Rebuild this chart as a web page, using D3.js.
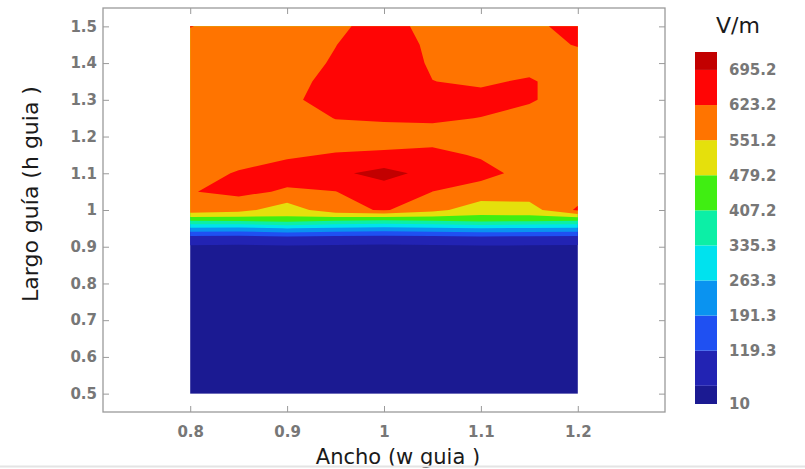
<!DOCTYPE html>
<html>
<head>
<meta charset="utf-8">
<script src="https://cdn.jsdelivr.net/npm/d3@7"></script>
<style>
    body { margin: 0; background: #fff; }
    svg { display: block; }
</style>
</head>
<body>
<svg id="chart" width="805" height="469"></svg>
<script>

// grid columns (Ancho) and rows (Largo), rows listed bottom to top
const xs = [0.8, 0.85, 0.9, 0.95, 1.0, 1.05, 1.1, 1.15, 1.2];
const ys = [0.5, 0.6, 0.7, 0.8, 0.9, 0.925, 0.95, 0.975, 1.0, 1.05, 1.1, 1.15, 1.2, 1.25, 1.3, 1.35, 1.4, 1.45, 1.5];

// field values in V/m, one row per ys entry
const field = [
    [12, 11, 13, 12, 10, 12, 13, 12, 11],
    [16, 15, 17, 16, 14, 16, 17, 15, 15],
    [20, 19, 21, 20, 18, 20, 21, 19, 19],
    [26, 25, 27, 26, 24, 26, 27, 25, 25],
    [38, 36, 40, 37, 35, 37, 40, 38, 36],
    [95, 90, 100, 92, 88, 92, 100, 95, 92],
    [250, 245, 265, 250, 240, 250, 262, 255, 250],
    [440, 445, 465, 440, 430, 440, 458, 450, 440],
    [600, 575, 510, 600, 630, 575, 505, 520, 635],
    [620, 640, 615, 622, 660, 623, 600, 590, 585],
    [590, 630, 650, 680, 720, 670, 640, 605, 580],
    [570, 590, 615, 628, 635, 636, 618, 590, 575],
    [565, 570, 575, 590, 590, 605, 600, 580, 575],
    [570, 575, 590, 625, 632, 630, 622, 600, 585],
    [575, 580, 610, 650, 655, 645, 640, 630, 590],
    [580, 582, 605, 640, 660, 624, 615, 630, 590],
    [585, 580, 595, 630, 665, 615, 595, 600, 590],
    [590, 585, 590, 622, 660, 610, 590, 595, 628],
    [626, 590, 585, 610, 650, 600, 590, 605, 650]
];

const levels = [10, 47.3, 119.3, 191.3, 263.3, 335.3, 407.2, 479.2, 551.2, 623.2, 695.2];
const levelMax = 732;
const bandColors = ["#1b1a92", "#2223b3", "#1f50f2", "#0a93f0", "#00e2ee", "#0cefa6",
    "#40ee12", "#e5e00c", "#ff7400", "#ff0505", "#c20000"];

const cbTicks = [10, 119.3, 191.3, 263.3, 335.3, 407.2, 479.2, 551.2, 623.2, 695.2];
const cbLabels = ["10", "119.3", "191.3", "263.3", "335.3", "407.2", "479.2", "551.2", "623.2", "695.2"];

const xTicks = [0.8, 0.9, 1, 1.1, 1.2];
const xTickLabels = ["0.8", "0.9", "1", "1.1", "1.2"];
const yTicks = [0.5, 0.6, 0.7, 0.8, 0.9, 1, 1.1, 1.2, 1.3, 1.4, 1.5];
const yTickLabels = ["0.5", "0.6", "0.7", "0.8", "0.9", "1", "1.1", "1.2", "1.3", "1.4", "1.5"];

const svg = d3.select("#chart");

const x = d3.scaleLinear().domain([0.71, 1.29]).range([103, 665]);
const y = d3.scaleLinear().domain([0.45, 1.55]).range([412, 8]);

// contour coordinates are in grid cells, sample i sits at i + 0.5
function gridPos(arr, c) {
    const t = Math.max(0, Math.min(arr.length - 1, c - 0.5));
    const i = Math.min(Math.floor(t), arr.length - 2);
    return arr[i] + (t - i) * (arr[i + 1] - arr[i]);
}

const proj = d3.geoTransform({
    point: function (px, py) {
        this.stream.point(x(gridPos(xs, px)), y(gridPos(ys, py)));
    }
});
const path = d3.geoPath(proj);

const contours = d3.contours()
    .size([xs.length, ys.length])
    .thresholds(levels.slice(1))(field.flat());

const plot = svg.append("g");

plot.append("rect")
    .attr("x", x(xs[0]))
    .attr("y", y(ys[ys.length - 1]))
    .attr("width", x(xs[xs.length - 1]) - x(xs[0]))
    .attr("height", y(ys[0]) - y(ys[ys.length - 1]))
    .attr("fill", bandColors[0]);

plot.selectAll("path.band")
    .data(contours)
    .join("path")
    .attr("class", "band")
    .attr("d", path)
    .attr("fill", (d, i) => bandColors[i + 1]);

// frame and ticks
const tickColor = "#9a9a9a";
const labelFont = "DejaVu Sans, sans-serif";

svg.append("g").attr("transform", `translate(0,${y.range()[0]})`)
    .call(d3.axisBottom(x).tickValues(xTicks).tickFormat((d, i) => xTickLabels[i])
        .tickSizeInner(-6).tickSizeOuter(0).tickPadding(14));
svg.append("g").attr("transform", `translate(0,${y.range()[1]})`)
    .call(d3.axisTop(x).tickValues(xTicks).tickFormat("")
        .tickSizeInner(-6).tickSizeOuter(0));
svg.append("g").attr("transform", `translate(${x.range()[0]},0)`)
    .call(d3.axisLeft(y).tickValues(yTicks).tickFormat((d, i) => yTickLabels[i])
        .tickSizeInner(-6).tickSizeOuter(0).tickPadding(6));
svg.append("g").attr("transform", `translate(${x.range()[1]},0)`)
    .call(d3.axisRight(y).tickValues(yTicks).tickFormat("")
        .tickSizeInner(-6).tickSizeOuter(0));

svg.selectAll(".domain").remove();
svg.selectAll(".tick line").attr("stroke", tickColor);
svg.selectAll(".tick text")
    .attr("fill", "#777")
    .style("font-family", labelFont)
    .style("font-weight", "bold")
    .style("font-size", "15px");

svg.append("rect")
    .attr("x", x.range()[0])
    .attr("y", y.range()[1])
    .attr("width", x.range()[1] - x.range()[0])
    .attr("height", y.range()[0] - y.range()[1])
    .attr("fill", "none")
    .attr("stroke", tickColor)
    .attr("stroke-width", 1.3);

// axis titles
svg.append("text")
    .attr("x", 398)
    .attr("y", 464)
    .attr("text-anchor", "middle")
    .attr("fill", "#1a1a1a")
    .style("font-family", "DejaVu Sans, sans-serif")
    .style("font-size", "21px")
    .text("Ancho (w guia )");

svg.append("text")
    .attr("transform", "translate(38,194) rotate(-90)")
    .attr("text-anchor", "middle")
    .attr("fill", "#1a1a1a")
    .style("font-family", "DejaVu Sans, sans-serif")
    .style("font-size", "22px")
    .text("Largo guía (h guia )");

// colorbar
const cb = d3.scaleLinear().domain([levels[0], levelMax]).range([404, 52]);
const edges = levels.concat([levelMax]);

svg.append("g").selectAll("rect")
    .data(levels)
    .join("rect")
    .attr("x", 695)
    .attr("width", 22)
    .attr("y", (d, i) => cb(edges[i + 1]))
    .attr("height", (d, i) => cb(edges[i]) - cb(edges[i + 1]))
    .attr("fill", (d, i) => bandColors[i]);

svg.append("g").selectAll("text")
    .data(cbTicks)
    .join("text")
    .attr("x", 729)
    .attr("y", d => cb(d))
    .attr("dy", "0.36em")
    .attr("fill", "#777")
    .style("font-family", labelFont)
    .style("font-weight", "bold")
    .style("font-size", "15px")
    .text((d, i) => cbLabels[i]);

svg.append("text")
    .attr("x", 738)
    .attr("y", 33)
    .attr("text-anchor", "middle")
    .attr("fill", "#1a1a1a")
    .style("font-family", "DejaVu Sans, sans-serif")
    .style("font-size", "22px")
    .text("V/m");

svg.append("line")
    .attr("x1", 0).attr("x2", 805)
    .attr("y1", 466.5).attr("y2", 466.5)
    .attr("stroke", "#e4e4e4")
    .attr("stroke-width", 2);

</script>
</body>
</html>
